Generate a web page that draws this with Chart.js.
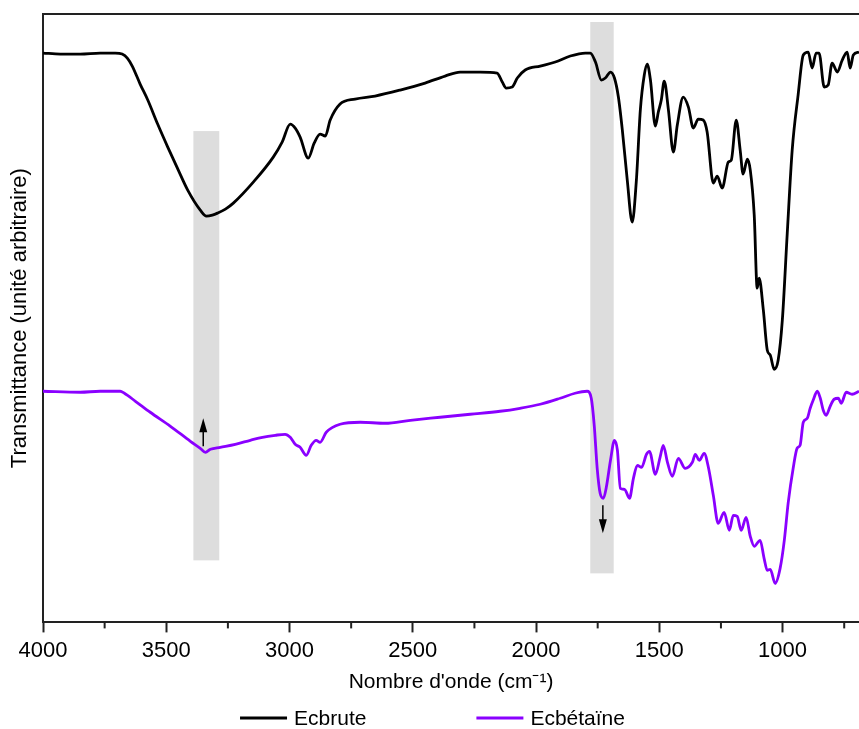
<!DOCTYPE html>
<html>
<head>
<meta charset="utf-8">
<script src="https://cdn.jsdelivr.net/npm/chart.js@4.4.1/dist/chart.umd.min.js"></script>
<style>
  html, body { margin: 0; padding: 0; background: #fff; }
  #wrap { width: 859px; height: 729px; }
</style>
</head>
<body>
<div id="wrap"><canvas id="ftir"></canvas></div>
<script>
// Ecbrute spectrum (wavenumber cm-1 / transmittance, arbitrary units)
const brutWn = [4000, 3930, 3849, 3768, 3707, 3679, 3658, 3638, 3606, 3575, 3535, 3494, 3453, 3413, 3362, 3337,
  3313, 3292, 3260, 3228, 3147, 3066, 3030, 2997, 2977, 2957, 2924, 2900, 2876, 2855, 2835, 2795, 2734, 2653, 2551,
  2450, 2369, 2308, 2227, 2158, 2137, 2121, 2097, 2076, 2044, 1983, 1922, 1861, 1800, 1780, 1759, 1735, 1719,
  1698, 1682, 1666, 1650, 1630, 1610, 1593, 1577, 1561, 1549, 1536, 1516, 1504, 1492, 1480, 1463, 1443, 1427,
  1403, 1382, 1362, 1342, 1322, 1306, 1281, 1265, 1245, 1220, 1208, 1188, 1172, 1160, 1143, 1131, 1115, 1103,
  1095, 1078, 1062, 1050, 1034, 1018, 1001, 981, 961, 937, 916, 896, 880, 864, 852, 831, 815, 799, 778, 758,
  738, 726, 713, 690];
const brutT = [56.9, 56.8, 56.8, 56.9, 56.9, 56.8, 56.4, 55.6, 53.8, 52.2, 49.8, 47.5, 45.3, 43.2, 41.2, 40.6,
  40.7, 40.9, 41.3, 41.9, 44.0, 46.5, 48.0, 49.8, 49.4, 48.5, 46.4, 47.9, 48.8, 48.6, 50.2, 51.8, 52.3, 52.6, 53.2,
  53.9, 54.6, 55.0, 55.0, 54.9, 54.0, 53.4, 53.5, 54.4, 55.2, 55.6, 56.0, 56.6, 56.9, 56.9, 56.0, 54.2, 54.4,
  55.0, 54.4, 52.5, 49.2, 44.2, 40.0, 44.2, 51.2, 54.7, 55.8, 54.2, 49.6, 51.0, 52.2, 54.1, 51.2, 47.0, 49.7,
  52.5, 51.5, 49.4, 50.3, 50.2, 49.0, 43.9, 44.6, 43.4, 46.0, 46.2, 50.2, 47.2, 44.8, 46.3, 45.2, 40.7, 33.4,
  34.4, 31.2, 27.2, 26.7, 25.3, 26.2, 30.2, 38.9, 47.2, 52.7, 56.7, 57.0, 55.4, 56.9, 56.9, 53.5, 53.7, 55.9,
  55.0, 56.2, 57.0, 55.4, 56.7, 57.0];

// Ecbétaïne spectrum
const betaWn = [4000, 3849, 3768, 3687, 3670, 3625, 3565, 3483, 3402, 3362, 3341, 3321, 3281, 3220, 3159, 3110,
  3058, 3018, 2997, 2977, 2957, 2932, 2912, 2892, 2876, 2851, 2795, 2713, 2612, 2510, 2389, 2267, 2146, 2065,
  1983, 1902, 1842, 1793, 1776, 1764, 1752, 1740, 1727, 1715, 1698, 1682, 1670, 1658, 1641, 1621, 1605, 1589,
  1572, 1552, 1540, 1516, 1496, 1484, 1467, 1447, 1423, 1395, 1366, 1354, 1338, 1318, 1301, 1281, 1261, 1237,
  1216, 1200, 1184, 1168, 1148, 1131, 1115, 1091, 1075, 1062, 1050, 1030, 1010, 993, 977, 957, 941, 929, 916,
  900, 888, 876, 859, 847, 835, 823, 807, 791, 774, 762, 742, 718, 690];
const betaT = [23.1, 23.0, 23.1, 23.1, 22.9, 22.1, 21.0, 19.6, 18.1, 17.4, 17.0, 17.3, 17.5, 17.8, 18.2, 18.5,
  18.7, 18.8, 18.5, 17.8, 17.5, 16.7, 17.7, 18.2, 18.0, 19.0, 19.8, 20.0, 19.9, 20.2, 20.5, 20.8, 21.1, 21.4,
  21.8, 22.4, 22.9, 23.1, 22.4, 19.7, 15.4, 12.9, 12.4, 13.5, 16.2, 18.2, 17.2, 13.4, 13.3, 12.4, 14.4, 15.7,
  15.5, 16.8, 17.1, 14.8, 16.6, 17.7, 16.0, 14.6, 16.4, 15.4, 16.0, 16.8, 16.2, 16.9, 15.5, 12.7, 9.9, 11.0,
  9.2, 10.7, 10.6, 9.2, 10.5, 8.6, 7.6, 8.2, 6.4, 5.2, 5.3, 3.9, 5.4, 8.2, 12.0, 15.4, 17.4, 17.7, 20.0,
  20.4, 21.4, 22.2, 23.1, 22.4, 21.2, 20.7, 21.6, 22.3, 22.4, 21.9, 23.0, 22.8, 23.1];

const seriesNames = ['Ecbrute', 'Ecbétaïne'];
const seriesColors = ['#000000', '#8a00ff'];

// x axis ticks
const tickValues = [4000, 3500, 3000, 2500, 2000, 1500, 1000];
const minorTicks = [3750, 3250, 2750, 2250, 1750, 1250, 750];

// highlighted regions (wavenumber range, transmittance range)
const bandFrom = [3390, 1780];
const bandTo = [3285, 1685];
const bandTop = [49.1, 60.0];
const bandBottom = [6.2, 4.9];

// arrows: wavenumber, tail value, head value
const arrowWn = [3350, 1729];
const arrowTail = [17.6, 11.7];
const arrowHead = [20.4, 8.9];

const FONT = "'Liberation Sans', Arial, sans-serif";

function toPoints(xs, ys) {
  return xs.map((v, i) => ({ x: v, y: ys[i] }));
}

const decorPlugin = {
  id: 'decor',
  beforeDatasetsDraw(chart) {
    const { ctx, scales: { x, y } } = chart;
    ctx.save();
    ctx.fillStyle = '#dddddd';
    bandFrom.forEach((f, i) => {
      const x1 = x.getPixelForValue(f);
      const x2 = x.getPixelForValue(bandTo[i]);
      const y1 = y.getPixelForValue(bandTop[i]);
      const y2 = y.getPixelForValue(bandBottom[i]);
      ctx.fillRect(Math.min(x1, x2), y1, Math.abs(x2 - x1), y2 - y1);
    });
    ctx.restore();
  },
  afterDatasetsDraw(chart) {
    const { ctx, scales: { x, y } } = chart;
    ctx.save();
    ctx.strokeStyle = '#000';
    ctx.fillStyle = '#000';
    ctx.lineWidth = 1.5;
    arrowWn.forEach((w, i) => {
      const px = x.getPixelForValue(w);
      const yt = y.getPixelForValue(arrowTail[i]);
      const yh = y.getPixelForValue(arrowHead[i]);
      const dir = yh < yt ? -1 : 1;
      ctx.beginPath();
      ctx.moveTo(px, yt);
      ctx.lineTo(px, yh - dir * 10);
      ctx.stroke();
      ctx.beginPath();
      ctx.moveTo(px, yh);
      ctx.lineTo(px - 4, yh - dir * 14);
      ctx.lineTo(px + 4, yh - dir * 14);
      ctx.closePath();
      ctx.fill();
    });
    ctx.restore();
  },
  afterDraw(chart) {
    const { ctx, chartArea, scales: { x } } = chart;
    ctx.save();
    ctx.strokeStyle = '#222';
    ctx.lineWidth = 2;
    // top frame line
    ctx.beginPath();
    ctx.moveTo(chartArea.left - 1, chartArea.top);
    ctx.lineTo(chartArea.right, chartArea.top);
    ctx.stroke();
    // minor ticks
    minorTicks.forEach(v => {
      const px = x.getPixelForValue(v);
      ctx.beginPath();
      ctx.moveTo(px, chartArea.bottom);
      ctx.lineTo(px, chartArea.bottom + 6);
      ctx.stroke();
    });
    // legend
    ctx.font = '21px ' + FONT;
    ctx.textBaseline = 'middle';
    ctx.fillStyle = '#000';
    const lineLen = 47, gap = 7, spacing = 110;
    const widths = seriesNames.map(n => lineLen + gap + ctx.measureText(n).width);
    const total = widths[0] + spacing + widths[1];
    let cx = chart.width / 2 + 3 - total / 2;
    const ly = chart.height - 11;
    seriesNames.forEach((n, i) => {
      ctx.strokeStyle = seriesColors[i];
      ctx.lineWidth = 3;
      ctx.beginPath();
      ctx.moveTo(cx, ly);
      ctx.lineTo(cx + lineLen, ly);
      ctx.stroke();
      ctx.fillText(n, cx + lineLen + gap, ly + 1);
      cx += widths[i] + spacing;
    });
    ctx.restore();
  }
};

new Chart(document.getElementById('ftir'), {
  type: 'line',
  data: {
    datasets: seriesNames.map((name, i) => ({
      label: name,
      data: toPoints(i === 0 ? brutWn : betaWn, i === 0 ? brutT : betaT),
      borderColor: seriesColors[i],
      borderWidth: 2.8,
      pointRadius: 0,
      cubicInterpolationMode: 'monotone',
      fill: false
    }))
  },
  options: {
    responsive: true,
    maintainAspectRatio: false,
    animation: false,
    devicePixelRatio: 1,
    layout: { padding: { left: 0, right: 0, top: 14, bottom: 32 } },
    plugins: {
      legend: { display: false },
      tooltip: { enabled: false }
    },
    scales: {
      x: {
        type: 'linear',
        reverse: true,
        min: 690,
        max: 4000,
        afterBuildTicks: scale => { scale.ticks = tickValues.map(v => ({ value: v })); },
        grid: { drawOnChartArea: false, tickLength: 10, tickWidth: 2, tickColor: '#222' },
        border: { display: true, color: '#222', width: 2 },
        ticks: {
          color: '#000',
          padding: 5,
          maxRotation: 0,
          font: { family: FONT, size: 22 },
          callback: v => String(v)
        },
        title: {
          display: true,
          text: "Nombre d'onde (cm⁻¹)",
          color: '#000',
          font: { family: FONT, size: 21 },
          padding: { top: 1, bottom: 2 }
        }
      },
      y: {
        min: 0,
        max: 60.8,
        afterFit: scale => { scale.width = 43; },
        grid: { display: false },
        border: { display: true, color: '#222', width: 2 },
        ticks: { display: false },
        title: {
          display: true,
          text: 'Transmittance (unité arbitraire)',
          color: '#000',
          font: { family: FONT, size: 22 },
          padding: { top: 7, bottom: 0 }
        }
      }
    }
  },
  plugins: [decorPlugin]
});
</script>
</body>
</html>
